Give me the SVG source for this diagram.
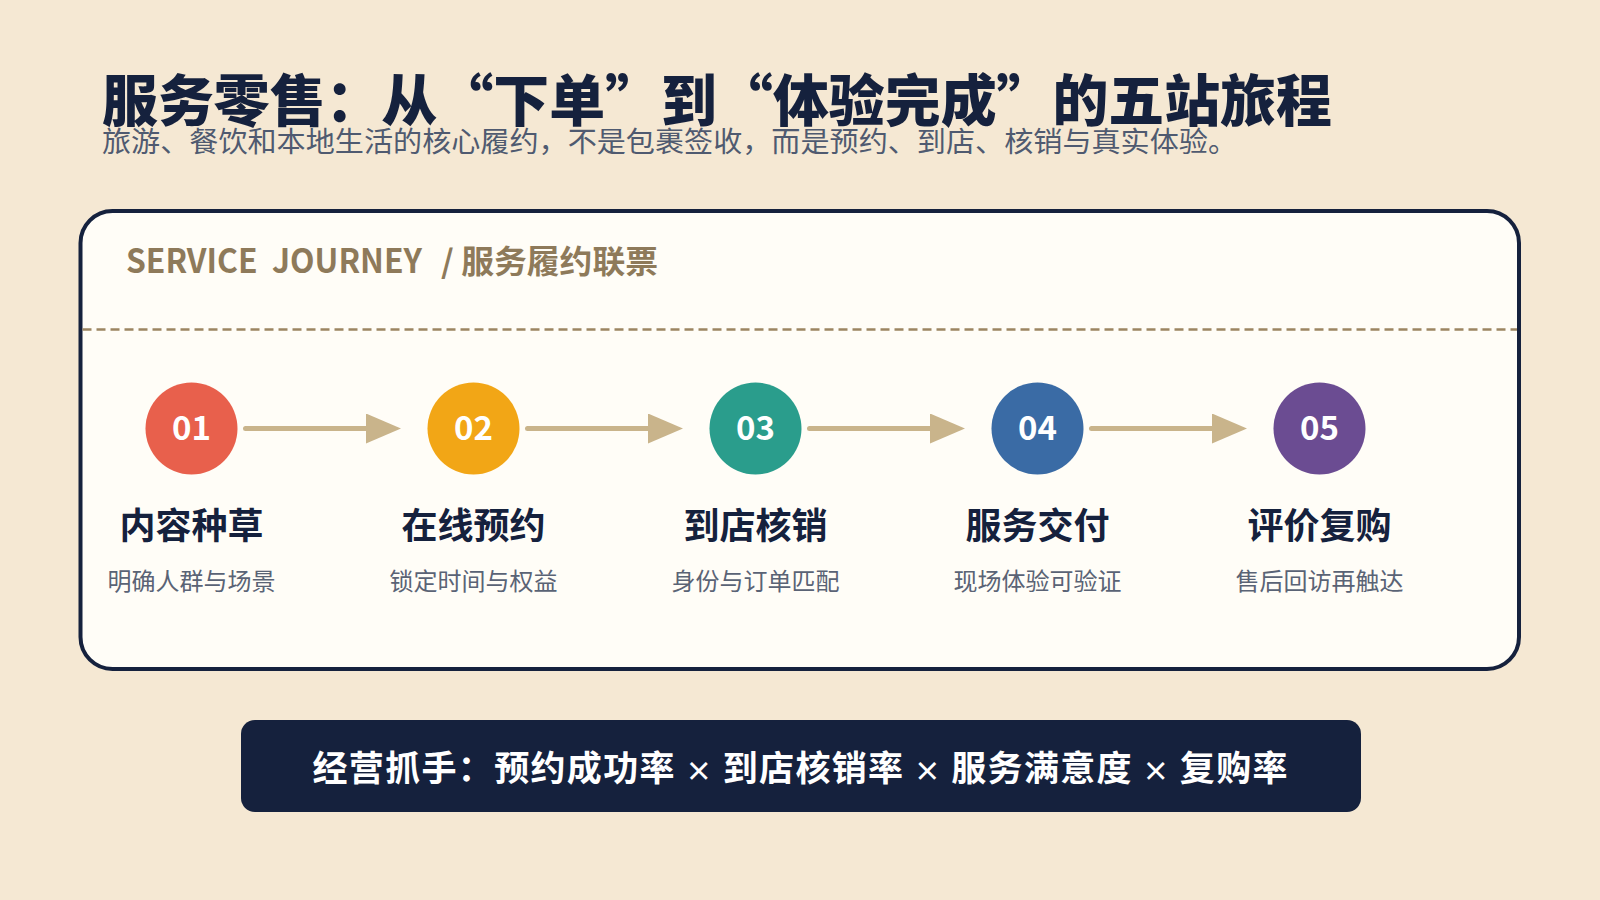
<svg xmlns="http://www.w3.org/2000/svg" width="1600" height="900" viewBox="0 0 1600 900">
  <defs>
    <marker id="arrowhead" markerUnits="userSpaceOnUse" markerWidth="36" markerHeight="32" refX="0" refY="15" orient="auto">
      <path d="M0,0 L35,15 L0,30 Z" fill="#c9b48b"/>
    </marker>
    <style>
      .cjk { font-family: "Noto Sans CJK SC", "Noto Sans", sans-serif; }
      .title { font-size: 56px; font-weight: 900; fill: #15213d; }
      .subtitle { font-size: 28px; font-weight: 400; fill: #4f5a70; }
      .header { font-weight: 700; fill: #8e7a5a; }
      .num { font-size: 33px; font-weight: 700; fill: #ffffff; text-anchor: middle; }
      .step { font-size: 36px; font-weight: 700; fill: #15213d; text-anchor: middle; }
      .desc { font-size: 24px; font-weight: 400; fill: #5a6375; text-anchor: middle; }
      .bar-text { font-size: 35px; font-weight: 700; fill: #ffffff; text-anchor: middle; }
      .times { font-size: 27px; }
      .conn { stroke: #c9b48b; stroke-width: 5; stroke-linecap: round; fill: none; }
    </style>
  </defs>

  <rect x="0" y="0" width="1600" height="900" fill="#f5e8d3"/>

  <g id="title">
    <text class="cjk title" x="102" y="120.5" textLength="1230" lengthAdjust="spacingAndGlyphs">服务零售：从“下单”到“体验完成”的五站旅程</text>
    <text class="cjk subtitle" x="102" y="151.5" textLength="1135" lengthAdjust="spacingAndGlyphs">旅游、餐饮和本地生活的核心履约，不是包裹签收，而是预约、到店、核销与真实体验。</text>
  </g>

  <g id="card">
    <rect x="80.5" y="211" width="1438.5" height="458" rx="32" ry="32" fill="#fffdf7" stroke="#15213d" stroke-width="4"/>
    <text class="cjk header" x="126" y="273" font-size="33" textLength="296" lengthAdjust="spacingAndGlyphs" xml:space="preserve">SERVICE  JOURNEY</text>
    <text class="cjk header" x="441" y="273" font-size="32" textLength="217" lengthAdjust="spacingAndGlyphs">/ 服务履约联票</text>
    <line x1="82.5" y1="329.5" x2="1517" y2="329.5" stroke="#9c8562" stroke-width="2.5" stroke-dasharray="9 5"/>
  </g>

  <g id="connectors">
    <line class="conn" x1="245.5" y1="428.5" x2="366" y2="428.5" marker-end="url(#arrowhead)"/>
    <line class="conn" x1="527.5" y1="428.5" x2="648" y2="428.5" marker-end="url(#arrowhead)"/>
    <line class="conn" x1="809.5" y1="428.5" x2="930" y2="428.5" marker-end="url(#arrowhead)"/>
    <line class="conn" x1="1091.5" y1="428.5" x2="1212" y2="428.5" marker-end="url(#arrowhead)"/>
  </g>

  <g id="step-01">
    <circle cx="191.5" cy="428.5" r="46" fill="#e8604c"/>
    <text class="cjk num" x="191.5" y="440">01</text>
    <text class="cjk step" x="191.5" y="538.5">内容种草</text>
    <text class="cjk desc" x="191.5" y="589.5">明确人群与场景</text>
  </g>
  <g id="step-02">
    <circle cx="473.5" cy="428.5" r="46" fill="#f2a616"/>
    <text class="cjk num" x="473.5" y="440">02</text>
    <text class="cjk step" x="473.5" y="538.5">在线预约</text>
    <text class="cjk desc" x="473.5" y="589.5">锁定时间与权益</text>
  </g>
  <g id="step-03">
    <circle cx="755.5" cy="428.5" r="46" fill="#2a9d8c"/>
    <text class="cjk num" x="755.5" y="440">03</text>
    <text class="cjk step" x="755.5" y="538.5">到店核销</text>
    <text class="cjk desc" x="755.5" y="589.5">身份与订单匹配</text>
  </g>
  <g id="step-04">
    <circle cx="1037.5" cy="428.5" r="46" fill="#3a6ba5"/>
    <text class="cjk num" x="1037.5" y="440">04</text>
    <text class="cjk step" x="1037.5" y="538.5">服务交付</text>
    <text class="cjk desc" x="1037.5" y="589.5">现场体验可验证</text>
  </g>
  <g id="step-05">
    <circle cx="1319.5" cy="428.5" r="46" fill="#6b4c92"/>
    <text class="cjk num" x="1319.5" y="440">05</text>
    <text class="cjk step" x="1319.5" y="538.5">评价复购</text>
    <text class="cjk desc" x="1319.5" y="589.5">售后回访再触达</text>
  </g>

  <g id="kpi-bar">
    <rect x="241" y="720" width="1120" height="92" rx="14" ry="14" fill="#15213d"/>
    <text class="cjk bar-text" x="800" y="780.5" textLength="975" lengthAdjust="spacing">经营抓手：预约成功率 <tspan class="times">×</tspan> 到店核销率 <tspan class="times">×</tspan> 服务满意度 <tspan class="times">×</tspan> 复购率</text>
  </g>
</svg>
